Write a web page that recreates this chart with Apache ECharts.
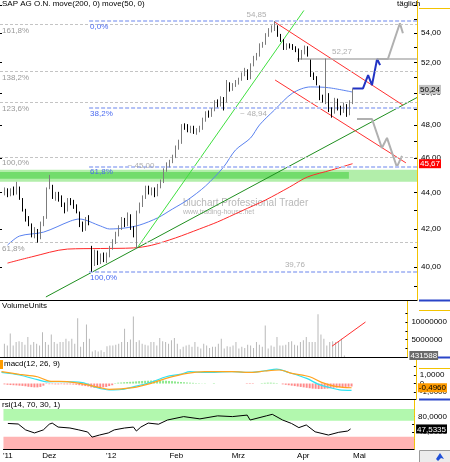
<!DOCTYPE html>
<html>
<head>
<meta charset="utf-8">
<title>SAP AG O.N.</title>
<script src="https://cdn.jsdelivr.net/npm/echarts@6.0.0/dist/echarts.min.js"></script>
<style>
  html, body { margin: 0; padding: 0; background: #fff; }
  #chart { width: 450px; height: 462px; }
</style>
</head>
<body>
<div id="chart"></div>
<script>
// one slot per trading day, 3px each; slot 1 = first candle
const SLOTS = 139
const FIRST = 1

// [open, close, low, high]
const candles = [
  [44.00, 44.16, 43.85, 44.30], [44.15, 43.88, 43.75, 44.25], [43.90, 44.16, 43.80, 44.25], [44.15, 43.94, 43.85, 44.35],
  [43.95, 44.39, 43.90, 44.62], [44.30, 43.71, 43.60, 44.35], [43.60, 43.05, 42.95, 43.70], [43.00, 42.50, 42.40, 43.10],
  [42.60, 42.28, 42.15, 42.70], [42.20, 41.64, 41.55, 42.30], [41.60, 41.96, 41.50, 42.10], [41.90, 41.42, 41.27, 42.00],
  [41.50, 42.28, 41.45, 42.40], [42.30, 42.50, 42.15, 42.70], [42.60, 44.16, 42.55, 44.30], [44.30, 44.73, 44.20, 45.02],
  [44.40, 43.77, 43.65, 44.45], [43.70, 43.88, 43.55, 44.05], [43.90, 43.60, 43.50, 44.05], [43.70, 43.32, 43.20, 43.85],
  [43.35, 42.99, 42.85, 43.45], [43.05, 43.60, 42.95, 43.70], [43.55, 43.43, 43.30, 43.70], [43.45, 43.27, 43.10, 43.60],
  [43.25, 42.94, 42.85, 43.35], [42.90, 42.23, 42.10, 42.95], [42.25, 41.96, 41.85, 42.40], [42.00, 42.50, 41.90, 42.65],
  [42.55, 42.39, 42.20, 42.75], [41.01, 40.12, 39.76, 41.10], [40.20, 40.79, 40.05, 40.90], [40.70, 40.27, 40.10, 40.85],
  [40.30, 40.58, 40.15, 40.70], [40.55, 40.37, 40.25, 40.75], [40.35, 40.63, 40.20, 40.75], [40.60, 41.01, 40.50, 41.10],
  [41.00, 41.32, 40.90, 41.45], [41.30, 41.69, 41.20, 41.85], [41.70, 42.07, 41.60, 42.20], [42.05, 42.50, 41.95, 42.65],
  [42.45, 42.23, 42.10, 42.60], [42.25, 42.77, 42.15, 42.90], [42.70, 42.07, 41.95, 42.80], [42.05, 41.69, 41.55, 42.15],
  [41.16, 42.88, 40.95, 43.00], [42.95, 43.32, 42.85, 43.45], [43.30, 43.71, 43.20, 43.85], [43.75, 44.27, 43.65, 44.40],
  [44.30, 44.05, 43.90, 44.40], [44.00, 44.16, 43.85, 44.30], [44.20, 43.88, 43.75, 44.30], [43.90, 44.39, 43.80, 44.50],
  [44.35, 44.62, 44.25, 44.75], [44.65, 45.31, 44.55, 45.40], [45.30, 45.60, 45.20, 45.75], [45.55, 45.77, 45.45, 45.90],
  [45.80, 46.07, 45.70, 46.20], [46.10, 46.60, 46.00, 46.75], [46.60, 46.96, 46.50, 47.10], [46.95, 47.94, 46.85, 48.05],
  [47.95, 47.88, 47.70, 48.10], [47.90, 47.69, 47.55, 48.05], [47.65, 47.82, 47.50, 47.95], [47.85, 47.57, 47.45, 47.95],
  [47.55, 47.69, 47.40, 47.80], [47.70, 47.82, 47.55, 47.95], [47.80, 48.31, 47.70, 48.45], [48.30, 48.74, 48.20, 48.85],
  [48.75, 48.62, 48.45, 48.90], [48.60, 48.93, 48.50, 49.05], [48.95, 49.43, 48.85, 49.55], [49.45, 49.24, 49.10, 49.60],
  [49.25, 49.69, 49.15, 49.80], [49.70, 49.05, 48.90, 49.75], [49.50, 50.72, 49.40, 50.85], [50.60, 50.20, 50.10, 50.70],
  [50.25, 50.52, 50.15, 50.65], [50.50, 50.72, 50.40, 50.85], [50.70, 50.85, 50.55, 51.00], [50.90, 51.24, 50.80, 51.35],
  [51.20, 51.50, 51.10, 51.65], [51.45, 50.98, 50.85, 51.55], [51.00, 51.83, 50.90, 51.95], [51.85, 52.30, 51.75, 52.45],
  [52.30, 52.50, 52.15, 52.65], [52.50, 53.17, 52.40, 53.30], [53.15, 53.24, 53.00, 53.40], [53.30, 53.86, 53.20, 54.00],
  [53.85, 54.21, 53.75, 54.35], [54.20, 54.35, 54.05, 54.55], [54.35, 54.48, 54.15, 54.85], [54.45, 53.86, 53.75, 54.55],
  [53.85, 53.52, 53.40, 53.95], [53.50, 52.97, 52.85, 53.60], [52.95, 53.17, 52.85, 53.30], [53.20, 53.11, 52.95, 53.30],
  [53.10, 52.97, 52.85, 53.25], [53.00, 52.84, 52.70, 53.10], [52.85, 52.30, 52.05, 52.95], [52.30, 52.70, 52.20, 52.85],
  [52.65, 52.97, 52.55, 53.15], [53.00, 52.50, 52.40, 53.10], [52.10, 51.17, 51.05, 52.20], [51.20, 50.98, 50.85, 51.35],
  [51.00, 50.66, 50.50, 51.10], [50.40, 49.69, 49.55, 50.50], [49.70, 49.56, 49.40, 49.90], [49.40, 50.07, 49.30, 52.27],
  [49.90, 48.93, 48.80, 50.00], [48.95, 48.74, 48.45, 49.10], [48.80, 49.56, 48.70, 49.70], [49.50, 49.05, 48.90, 49.65],
  [49.10, 48.81, 48.60, 49.20], [48.85, 49.24, 48.75, 49.40], [49.20, 48.68, 48.50, 49.30], [48.70, 49.43, 48.60, 49.55],
  [49.40, 50.24, 49.30, 50.30]
]

// volume in millions
const volumes = [
  3.8, 3.3, 6.7, 3.3, 4.3, 4.5, 4.3, 3.5, 5.7, 3.5,
  4.3, 3.8, 3.3, 7.1, 4.3, 3.5, 6.4, 4.3, 3.8, 4.3,
  4.3, 5.2, 4.5, 5.2, 3.8, 11.1, 2.9, 4.3, 9.3, 5.2,
  1.6, 1.9, 1.6, 1.9, 1.4, 3.1, 3.3, 3.3, 3.5, 3.8,
  4.3, 8.1, 4.3, 5.0, 11.6, 4.3, 4.8, 3.8, 3.5, 3.3,
  4.3, 4.3, 3.3, 5.4, 4.5, 4.3, 3.8, 4.8, 5.4, 3.8,
  2.2, 2.9, 3.3, 3.5, 2.9, 4.3, 2.9, 2.4, 3.8, 3.3,
  2.6, 2.9, 2.9, 3.8, 5.2, 2.4, 3.1, 2.9, 3.3, 4.3,
  2.4, 2.9, 2.6, 3.5, 3.3, 2.6, 4.3, 3.5, 2.9, 9.0,
  2.4, 3.3, 2.9, 5.7, 3.3, 3.3, 3.5, 4.3, 4.5, 3.5,
  3.3, 4.3, 4.8, 5.7, 4.3, 4.3, 4.3, 12.2, 6.4, 5.2,
  3.3, 4.3, 4.5, 4.3, 4.3, 5.2, 0.431588
]

const macdHist = [
  -0.10, -0.15, -0.18, -0.20, -0.22, -0.25, -0.28, -0.32, -0.38, -0.42,
  -0.45, -0.45, -0.40, -0.25, -0.05, -0.08, -0.08, -0.10, -0.10, -0.08,
  -0.10, -0.10, -0.10, -0.12, -0.15, -0.20, -0.25, -0.30, -0.35, -0.45,
  -0.50, -0.50, -0.48, -0.45, -0.40, -0.30, -0.20, 0.05, 0.10, 0.12,
  0.15, 0.18, 0.20, 0.22, 0.25, 0.28, 0.30, 0.32, 0.33, 0.35,
  0.35, 0.36, 0.35, 0.35, 0.33, 0.30, 0.28, 0.25, 0.20, 0.18,
  0.15, 0.12, 0.10, 0.08, 0.05, 0.04, 0.02, 0.03, 0, 0,
  0.05, 0, 0, 0, 0, 0, 0, 0, 0, 0,
  0, -0.05, -0.06, -0.05, 0, 0, 0.05, 0.08, 0.10, 0.10,
  0.08, 0.05, 0, -0.10, -0.15, -0.20, -0.25, -0.30, -0.35, -0.40,
  -0.45, -0.50, -0.55, -0.60, -0.62, -0.65, -0.65, -0.62, -0.60, -0.55,
  -0.50, -0.48, -0.45, -0.42, -0.40, -0.38, -0.35
]

// [slot, value]
const macdLine = [[0, 1.3], [6, 1.0], [12, 0.45], [15, 0.2], [20, 0.22], [27, 0.1], [32, -0.5], [36, -0.75], [40, -0.7],
  [44, -0.4], [50, 0.15], [55, 0.8], [60, 1.1], [63, 1.4], [68, 1.3], [77, 1.4], [83, 1.3], [88, 1.5], [92, 1.7],
  [96, 1.3], [102, 0.6], [106, -0.1], [110, -0.5], [113, -0.75], [117, -0.8]]
const signalLine = [[0, 1.39], [6, 1.08], [12, 0.8], [16, 0.29], [22, 0.22], [28, -0.1], [33, -0.49], [36, -0.69],
  [44, -0.49], [50, 0.02], [55, 0.61], [62, 1.2], [68, 1.39], [77, 1.39], [84, 1.31], [88, 1.47], [93, 1.59],
  [97, 1.2], [103, 0.8], [107, 0.14], [112, -0.37], [117, -0.496]]

const rsiLine = [[1, 62], [4.5, 60.5], [7, 45], [10, 37], [13, 45], [15, 60], [16, 63], [18, 52.5], [22, 50], [25, 45],
  [28, 39.5], [29.5, 26], [32, 31.5], [35, 37], [37, 45], [40.5, 50], [43.5, 52.5], [44.5, 42], [46, 52.5], [48.5, 63],
  [52, 60], [55, 71], [60.5, 80], [66, 74], [72, 82], [77, 80], [82, 84], [83, 71], [88.5, 82], [90.5, 86], [94, 71],
  [97, 62], [99.5, 51], [102, 58], [105, 40], [109.5, 31.5], [113, 38.7], [116, 42], [117, 47.5335]]

const ma200 = [[2, 40.20], [10, 40.52], [22, 40.93], [33, 40.96], [44, 40.99], [50, 41.13], [58, 41.52], [66, 42.00],
  [72, 42.38], [80, 42.98], [88, 43.59], [96, 44.32], [102, 44.90], [110, 45.30], [117, 45.67]]
const ma50 = [[2, 41.14], [6, 41.62], [14, 41.83], [23, 42.43], [26, 42.54], [33, 42.16], [36, 42.00], [41, 42.05],
  [46, 42.21], [52, 42.60], [57, 43.09], [62, 43.59], [68, 44.38], [74, 45.47], [78, 46.48], [83, 47.20], [86, 48.00],
  [91, 48.93], [97, 50.00], [103, 50.40], [109, 50.35], [117, 50.07]]

// drawn tools
const channelTop = [[91.2, 54.76], [133.8, 49.24]]
const channelLow = [[91.2, 50.85], [134.8, 45.72]]
const trendSteep = [[45.5, 41.05], [100.8, 55.6]]
const trendLong = [[14.8, 38.49], [138.5, 49.72]]
const projBlue = [[117, 50.30], [120.5, 50.30], [122.2, 51.17], [123.5, 50.52], [125.2, 52.24], [126.2, 51.83]]
const projUp = [[125.2, 52.24], [128.8, 52.24], [132.8, 54.69], [133.8, 54.00]]
const projDown = [[118.5, 48.37], [123.5, 48.37], [126.8, 46.60], [128.5, 47.21], [131.8, 45.48], [133.5, 46.13]]
const volTrend = [[112.8, 3.1], [124.2, 10.0]]

// retracement levels
const fibLevels = [54.85, 49.09, 45.52, 39.76]
const fibNames = ['0,0%', '38,2%', '61,8%', '100,0%']
const fibStart = 29.2
const extLevels = [54.44, 51.24, 49.30, 46.19, 41.12]
const extNames = ['161,8%', '138,2%', '123,6%', '100,0%', '61,8%']
const level5227 = [[98.5, 52.27], [138.5, 52.27]]
const supportZone = [44.62, 45.31]
const supportCore = [44.79, 45.19, 115.8]

// axes
const priceMin = 38.34
const priceMax = 56.35
const priceLabels = [40, 42, 44, 46, 48, 50, 52, 54]
const priceTicks = [39, 40, 41, 42, 43, 44, 45, 46, 47, 48, 49, 50, 51, 52, 53, 54, 55, 56]
const leftTicks = [40, 42, 44, 46, 48, 50, 52, 54, 56]
const monthIdx = [1, 15, 36, 58, 79, 101, 120]
const monthLabels = ["'11", 'Dez', "'12", 'Feb', 'Mrz', 'Apr', 'Mai']
const volMax = 16
const volLabels = [0, 5, 10]
const macdMin = -1.82
const macdMax = 3.0
const macdLabels = [-1, 0, 1]
const rsiMin = -5.26
const rsiMax = 123.7
const rsiLabels = [40, 80]
const rsiHigh = [69, 100]
const rsiLow = [-6, 27]

const ln = Math.log
const fmt = (v, d) => v.toFixed(d).replace('.', ',')
const logPts = pts => pts.map(([i, p]) => [i, ln(p)])
const slots = Array.from({ length: SLOTS }, (_, k) => k)
const atSlot = (arr, k) => (k - FIRST >= 0 && k - FIRST < arr.length ? arr[k - FIRST] : '-')

const lastClose = candles[candles.length - 1][1]
const lastMa200 = ma200[ma200.length - 1][1]
const lastVolume = volumes[volumes.length - 1]
const lastSignal = signalLine[signalLine.length - 1][1]
const lastRsi = rsiLine[rsiLine.length - 1][1]

const FONT = '"Liberation Sans Narrow", "Arial Narrow", "Liberation Sans", Arial, sans-serif'
const txt = { fontFamily: FONT, fontSize: 8, color: '#000' }

const grids = [
  { left: 0, width: 417, top: 0, height: 300 },
  { left: 0, width: 417, top: 301, height: 56 },
  { left: 0, width: 417, top: 358, height: 41 },
  { left: 0, width: 417, top: 400, height: 49 },
]

const xAxis = []
grids.forEach((g, gi) => {
  xAxis.push({
    type: 'category', gridIndex: gi, data: slots, boundaryGap: true, position: 'bottom',
    axisLine: { show: true, onZero: false, lineStyle: { color: '#000', width: 1 } },
    axisTick: { show: false }, axisLabel: { show: false }, splitLine: { show: false },
  })
  xAxis.push({
    type: 'value', gridIndex: gi, min: -0.5, max: SLOTS - 0.5, position: 'bottom',
    show: gi === 3,
    axisLine: { show: false, onZero: false }, axisTick: { show: false }, splitLine: { show: false },
    axisLabel: {
      customValues: monthIdx, margin: 3, ...txt,
      formatter: v => monthLabels[monthIdx.indexOf(v)] || '',
    },
  })
})

const yellow = { show: true, onZero: false, lineStyle: { color: '#f3c300', width: 1 } }
const boxAxis = (gi, min, max, vals, fn) => ({
  type: 'value', gridIndex: gi, position: 'right', min, max,
  axisLine: { show: false, onZero: false }, axisTick: { show: false }, splitLine: { show: false },
  axisLabel: {
    customValues: vals, margin: 2, formatter: fn, ...txt,
    rich: {
      g: { backgroundColor: '#c4c4c4', color: '#000', padding: [1, 1, 0, 1], fontSize: 8, fontFamily: FONT },
      r: { backgroundColor: '#ff0000', color: '#fff', padding: [1, 1, 0, 1], fontSize: 8, fontFamily: FONT },
      d: { backgroundColor: '#6a6a6a', color: '#fff', padding: [1, 1, 0, 1], fontSize: 8, fontFamily: FONT },
      o: { backgroundColor: '#ff9c00', color: '#000', padding: [1, 1, 0, 1], fontSize: 8, fontFamily: FONT },
      k: { backgroundColor: '#000', color: '#fff', padding: [1, 1, 0, 1], fontSize: 8, fontFamily: FONT },
    },
  },
})

const yAxis = [
  {
    type: 'value', gridIndex: 0, position: 'right', min: ln(priceMin), max: ln(priceMax),
    axisLine: yellow, splitLine: { show: false },
    axisTick: { show: true, inside: true, length: 3, customValues: priceTicks.map(ln), lineStyle: { color: '#000' } },
    axisLabel: { customValues: priceLabels.map(ln), margin: 4, ...txt, formatter: v => fmt(Math.exp(v), 2) },
  },
  {
    type: 'value', gridIndex: 0, position: 'left', min: ln(priceMin), max: ln(priceMax),
    axisLine: { show: false, onZero: false }, splitLine: { show: false }, axisLabel: { show: false },
    axisTick: { show: true, inside: true, length: 2, customValues: leftTicks.map(ln), lineStyle: { color: '#000' } },
  },
  boxAxis(0, ln(priceMin), ln(priceMax), [ln(lastClose), ln(lastMa200)],
    v => (Math.abs(v - ln(lastClose)) < 1e-6 ? '{g|' + fmt(lastClose, 2) + '}' : '{r|' + fmt(lastMa200, 2) + '}')),
  {
    type: 'value', gridIndex: 1, position: 'right', min: 0, max: volMax,
    axisLine: yellow, splitLine: { show: false },
    axisTick: { show: true, inside: true, length: 2, customValues: [2.5, 5, 7.5, 10, 12.5], lineStyle: { color: '#000' } },
    axisLabel: { customValues: volLabels, margin: 4, ...txt, formatter: v => String(Math.round(v * 1000000)) },
  },
  boxAxis(1, 0, volMax, [lastVolume], () => '{d|' + Math.round(lastVolume * 1000000) + '}'),
  {
    type: 'value', gridIndex: 2, position: 'right', min: macdMin, max: macdMax,
    axisLine: yellow, splitLine: { show: false },
    axisTick: { show: true, inside: true, length: 2, customValues: [-1, 0, 1, 2], lineStyle: { color: '#000' } },
    axisLabel: { customValues: macdLabels, margin: 4, ...txt, formatter: v => (v === 0 ? '0' : fmt(v, 4)) },
  },
  boxAxis(2, macdMin, macdMax, [lastSignal], () => '{o|' + fmt(lastSignal, 4) + '}'),
  {
    type: 'value', gridIndex: 3, position: 'right', min: rsiMin, max: rsiMax,
    axisLine: yellow, splitLine: { show: false },
    axisTick: { show: true, inside: true, length: 2, customValues: [20, 40, 60, 80, 100], lineStyle: { color: '#000' } },
    axisLabel: { customValues: rsiLabels, margin: 4, ...txt, formatter: v => fmt(v, 4) },
  },
  boxAxis(3, rsiMin, rsiMax, [lastRsi], () => '{k|' + fmt(lastRsi, 4) + '}'),
]

const priceLine = (name, pts, color, width, extra) => ({
  name, type: 'line', xAxisIndex: 1, yAxisIndex: 0, data: logPts(pts),
  symbol: 'none', silent: true, z: 4,
  lineStyle: { color, width }, ...(extra || {}),
})

const option = {
  animation: false,
  backgroundColor: '#fff',
  textStyle: { fontFamily: FONT },
  title: [
    { text: 'SAP AG O.N. move(200, 0) move(50, 0)', left: 2, top: 0, padding: 0, textStyle: { ...txt, fontWeight: 'normal' } },
    { text: 'täglich', left: 397, top: 0, padding: 0, textStyle: { ...txt, fontWeight: 'normal' } },
    { text: 'VolumeUnits', left: 2, top: 302, padding: 0, textStyle: { ...txt, fontWeight: 'normal' } },
    { text: 'macd(12, 26, 9)', left: 4, top: 360, padding: 0, textStyle: { ...txt, fontWeight: 'normal' } },
    { text: 'rsi(14, 70, 30, 1)', left: 2, top: 401, padding: 0, textStyle: { ...txt, fontWeight: 'normal' } },
  ],
  grid: grids,
  xAxis,
  yAxis,
  graphic: [
    { type: 'text', left: 183, top: 198, silent: true, z: 1,
      style: { text: 'bluchart Professional Trader', font: '10px ' + FONT, fill: '#b8b8b8' } },
    { type: 'text', left: 183, top: 209, silent: true, z: 1,
      style: { text: 'www.trading-house.net', font: '7px ' + FONT, fill: '#b8b8b8' } },
    { type: 'rect', left: 0, top: 360, shape: { width: 3, height: 9 }, style: { fill: '#ff9c00' } },
    { type: 'line', shape: { x1: 419, y1: 300.5, x2: 450, y2: 300.5 }, style: { stroke: '#2a45c8', lineWidth: 2 } },
    { type: 'line', shape: { x1: 419, y1: 357.5, x2: 450, y2: 357.5 }, style: { stroke: '#2a45c8', lineWidth: 2 } },
    { type: 'line', shape: { x1: 419, y1: 399.5, x2: 450, y2: 399.5 }, style: { stroke: '#2a45c8', lineWidth: 2 } },
    { type: 'line', shape: { x1: 419, y1: 8.5, x2: 450, y2: 8.5 }, style: { stroke: '#f3c300', lineWidth: 1 } },
    { type: 'line', shape: { x1: 419, y1: 310.5, x2: 450, y2: 310.5 }, style: { stroke: '#f3c300', lineWidth: 1 } },
    { type: 'line', shape: { x1: 419, y1: 368.5, x2: 450, y2: 368.5 }, style: { stroke: '#f3c300', lineWidth: 1 } },
    { type: 'rect', left: 419, top: 450, shape: { width: 31, height: 12 }, style: { fill: '#ececec', stroke: '#9a9a9a' } },
    { type: 'polygon', shape: { points: [[436, 459], [440, 453], [444, 459], [441, 458], [438, 461]] }, style: { fill: '#2050d8' } },
  ],
  series: [
    {
      name: 'zone', type: 'line', xAxisIndex: 1, yAxisIndex: 0, data: [], z: 1, silent: true,
      markArea: {
        silent: true,
        data: [
          [{ xAxis: -0.5, yAxis: ln(supportZone[1]), itemStyle: { color: '#b2eeaa' } }, { xAxis: SLOTS - 0.5, yAxis: ln(supportZone[0]) }],
          [{ xAxis: -0.5, yAxis: ln(supportCore[1]), itemStyle: { color: '#72dc6c' } }, { xAxis: supportCore[2], yAxis: ln(supportCore[0]) }],
        ],
      },
    },
    {
      name: 'levels', type: 'line', xAxisIndex: 1, yAxisIndex: 0, data: [], z: 2, silent: true,
      markLine: {
        silent: true, symbol: ['none', 'none'],
        data: [
          ...extLevels.map((p, k) => ({
            yAxis: ln(p),
            lineStyle: { color: '#c4c4c4', type: [3, 2], width: 1 },
            label: { formatter: extNames[k], position: 'insideStartBottom', distance: [2, 2], ...txt, color: '#9a9a9a' },
          })),
          ...fibLevels.map((p, k) => [
            {
              coord: [fibStart, ln(p)],
              lineStyle: { color: '#b4c2f6', type: [4, 2], width: 2 },
              label: { formatter: fibNames[k], position: 'insideStartBottom', distance: [1, 2], ...txt, color: '#4a6af0' },
            },
            { coord: [SLOTS - 0.5, ln(p)] },
          ]),
          [
            { coord: [level5227[0][0], ln(level5227[0][1])], lineStyle: { color: '#b0b0b0', type: 'solid', width: 1.5 }, label: { show: false } },
            { coord: [level5227[1][0], ln(level5227[1][1])] },
          ],
        ],
      },
    },
    priceLine('ma200', ma200, '#ff2a2a', 1, { smooth: 0.3 }),
    priceLine('ma50', ma50, '#5a82f0', 1, { smooth: 0.3 }),
    priceLine('trendSteep', trendSteep, '#3fe03f', 1),
    priceLine('trendLong', trendLong, '#1f8f1f', 1),
    priceLine('channelTop', channelTop, '#ff3030', 1),
    priceLine('channelLow', channelLow, '#ff3030', 1),
    priceLine('projUp', projUp, '#b0b0b0', 2),
    priceLine('projDown', projDown, '#b0b0b0', 2),
    priceLine('projBlue', projBlue, '#2233c4', 2),
    {
      name: 'SAP', type: 'candlestick', xAxisIndex: 0, yAxisIndex: 0, z: 5, barWidth: 1,
      data: slots.map(k => { const c = atSlot(candles, k); return c === '-' ? '-' : c.map(ln) }),
      itemStyle: { color: '#a4a4a4', color0: '#000', borderColor: '#7c7c7c', borderColor0: '#000', borderWidth: 1 },
    },
    {
      name: 'notes', type: 'scatter', xAxisIndex: 1, yAxisIndex: 0, symbolSize: 1, z: 6, silent: true,
      itemStyle: { color: 'rgba(0,0,0,0)' },
      label: { show: true, ...txt, color: '#9a9a9a' },
      data: [
        { value: [85, ln(54.85)], label: { formatter: '54,85', position: 'top', distance: 2 } },
        { value: [113.5, ln(52.27)], label: { formatter: '52,27', position: 'top', distance: 2 } },
        { value: [97.8, ln(39.76)], label: { formatter: '39,76', position: 'top', distance: 2 } },
        { value: [46.5, ln(45.52)], label: { formatter: '~ 45,00', position: 'inside' } },
        { value: [84, ln(49.09)], label: { formatter: '~ 48,94', position: 'bottom', distance: 2 } },
      ],
    },
    {
      name: 'Volume', type: 'bar', xAxisIndex: 2, yAxisIndex: 3, barWidth: 1,
      data: slots.map(k => atSlot(volumes, k)),
      itemStyle: { color: '#b9b9b9' },
    },
    {
      name: 'volTrend', type: 'line', xAxisIndex: 3, yAxisIndex: 3, data: volTrend, symbol: 'none',
      lineStyle: { color: '#ff3030', width: 1 },
    },
    {
      name: 'hist', type: 'bar', xAxisIndex: 4, yAxisIndex: 5, barWidth: 2,
      data: slots.map(k => atSlot(macdHist, k)),
      itemStyle: { color: p => (p.value >= 0 ? '#8ee88e' : '#ff8a8a') },
    },
    {
      name: 'macd', type: 'line', xAxisIndex: 5, yAxisIndex: 5, data: macdLine, symbol: 'none', smooth: 0.3,
      lineStyle: { color: '#2fe3f2', width: 1.2 },
    },
    {
      name: 'signal', type: 'line', xAxisIndex: 5, yAxisIndex: 5, data: signalLine, symbol: 'none', smooth: 0.3,
      lineStyle: { color: '#ffa31f', width: 1.2 },
    },
    {
      name: 'rsi', type: 'line', xAxisIndex: 7, yAxisIndex: 7, data: rsiLine, symbol: 'none',
      lineStyle: { color: '#000', width: 1 },
      markArea: {
        silent: true,
        data: [
          [{ yAxis: rsiHigh[1], itemStyle: { color: '#b2f8ae' } }, { yAxis: rsiHigh[0] }],
          [{ yAxis: rsiLow[1], itemStyle: { color: '#ffb4b4' } }, { yAxis: rsiLow[0] }],
        ],
      },
    },
  ],
}

const chart = echarts.init(document.getElementById('chart'))
chart.setOption(option)
</script>
</body>
</html>
